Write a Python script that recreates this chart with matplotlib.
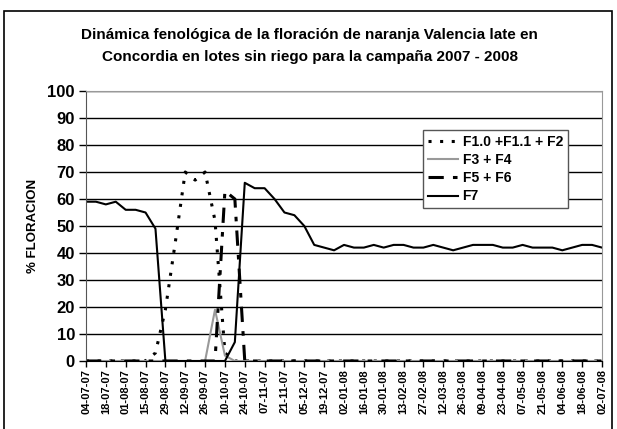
import matplotlib.pyplot as plt
import matplotlib.patches as mpatches

plt.rcParams['font.family'] = ['Liberation Sans', 'DejaVu Sans']

# weekly dates, 04-07-07 .. 02-07-08 (53 weeks)
fechas = ['04-07-07', '11-07-07', '18-07-07', '25-07-07', '01-08-07', '08-08-07', '15-08-07',
          '22-08-07', '29-08-07', '05-09-07', '12-09-07', '19-09-07', '26-09-07', '03-10-07',
          '10-10-07', '17-10-07', '24-10-07', '31-10-07', '07-11-07', '14-11-07', '21-11-07',
          '28-11-07', '05-12-07', '12-12-07', '19-12-07', '26-12-07', '02-01-08', '09-01-08',
          '16-01-08', '23-01-08', '30-01-08', '06-02-08', '13-02-08', '20-02-08', '27-02-08',
          '05-03-08', '12-03-08', '19-03-08', '26-03-08', '02-04-08', '09-04-08', '16-04-08',
          '23-04-08', '30-04-08', '07-05-08', '14-05-08', '21-05-08', '28-05-08', '04-06-08',
          '11-06-08', '18-06-08', '25-06-08', '02-07-08']

f1_f2 = [0, 0, 0, 0, 0, 0, 0, 3, 19, 44, 70, 67, 70, 52, 3, 0, 0] + [0] * 36
f3_f4 = [0] * 13 + [19, 2] + [0] * 38
f5_f6 = [0] * 14 + [63, 60] + [0] * 37
f7 = [59, 59, 58, 59, 56, 56, 55, 49, 0, 0, 0, 0, 0, 0, 0, 7,
      66, 64, 64, 60, 55, 54, 50, 43, 42, 41, 43, 42, 42, 43, 42, 43,
      43, 42, 42, 43, 42, 41, 42, 43, 43, 43, 42, 42, 43, 42, 42, 42,
      41, 42, 43, 43, 42]

fig = plt.figure(figsize=(6.17, 4.29), dpi=100)
fig.patches.append(mpatches.Rectangle((4 / 617, -0.01), 608 / 617, 1 - 11 / 429 + 0.01,
                                      transform=fig.transFigure, fill=False,
                                      edgecolor='black', linewidth=1.2))
ax = fig.add_axes([86 / 617, 1 - 361 / 429, 516 / 617, 270 / 429])

x = list(range(len(fechas)))
ax.plot(x, f1_f2, color='black', linestyle=(0, (1, 2.8)), linewidth=2.2,
        label='F1.0 +F1.1 + F2')
ax.plot(x, f3_f4, color='#999999', linewidth=1.5, label='F3 + F4')
ax.plot(x, f5_f6, color='black', linestyle=(0, (5, 3, 1.5, 3)), linewidth=2.2,
        label='F5 + F6')
ax.plot(x, f7, color='black', linewidth=1.5, label='F7')

ax.set_xlim(0, len(fechas) - 1)
ax.set_ylim(0, 100)
ax.set_yticks(range(0, 101, 10))
ax.grid(axis='y', color='black', linewidth=1)
ax.set_axisbelow(True)
ax.set_xticks(x[::2])
ax.set_xticklabels(fechas[::2], rotation=90, fontsize=8, fontweight='bold')
for lab in ax.get_yticklabels():
    lab.set_fontweight('bold')
    lab.set_fontsize(12)
ax.tick_params(axis='y', length=5, width=1, pad=3)
ax.tick_params(axis='x', length=4, width=1, pad=2)
for s in ['top', 'right']:
    ax.spines[s].set_color('#999999')
ax.spines['left'].set_color('#555555')
ax.spines['bottom'].set_color('black')

ax.set_ylabel('% FLORACION', fontsize=9.5, fontweight='bold', labelpad=6)

fig.text(0.502, 1 - 35 / 429, 'Dinámica fenológica de la floración de naranja Valencia late en',
         ha='center', va='center', fontsize=11, fontweight='bold')
fig.text(0.502, 1 - 57 / 429, 'Concordia en lotes sin riego para la campaña 2007 - 2008',
         ha='center', va='center', fontsize=11, fontweight='bold')

leg = ax.legend(loc='upper left', bbox_to_anchor=(337 / 516, 231 / 270),
                prop={'weight': 'bold', 'size': 10}, frameon=True, fancybox=False,
                handlelength=2.2, handletextpad=0.3, borderpad=0.35, labelspacing=0.3,
                borderaxespad=0)
leg.get_frame().set_edgecolor('#555555')
leg.get_frame().set_linewidth(1)
leg.get_frame().set_alpha(1)

fig.savefig('out.png', dpi=100)
